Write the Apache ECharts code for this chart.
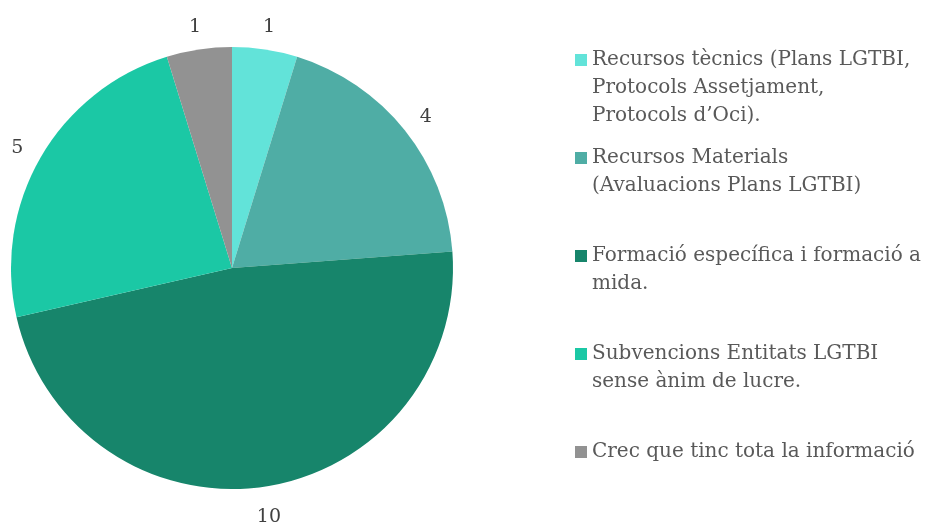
<!DOCTYPE html>
<html>
<head>
<meta charset="utf-8">
<script src="https://cdn.jsdelivr.net/npm/echarts@6/dist/echarts.min.js"></script>
<style>html,body{margin:0;padding:0;background:#fff}#c{width:936px;height:522px}</style>
</head>
<body>
<div id="c"></div>
<script>
var categories = [
  "Recursos tècnics (Plans LGTBI, Protocols Assetjament, Protocols d’Oci).",
  "Recursos Materials (Avaluacions Plans LGTBI)",
  "Formació específica i formació a mida.",
  "Subvencions Entitats LGTBI sense ànim de lucre.",
  "Crec que tinc tota la informació"
];
var values = [1, 4, 10, 5, 1];
var legendLines = [
  ["Recursos tècnics (Plans LGTBI,", "Protocols Assetjament,", "Protocols d’Oci)."],
  ["Recursos Materials", "(Avaluacions Plans LGTBI)"],
  ["Formació específica i formació a", "mida."],
  ["Subvencions Entitats LGTBI", "sense ànim de lucre."],
  ["Crec que tinc tota la informació"]
];
var colors = ["#62E3D9", "#4FADA5", "#17856B", "#1BC8A5", "#929292"];

var FONT = "DejaVu Serif";
var data = categories.map(function (n, i) { return { name: n, value: values[i] }; });

var rich = {
  g: { width: 5, lineHeight: 28 },
  sp: { width: 17, lineHeight: 28 },
  t: { fontFamily: FONT, fontSize: 20, color: "#595959", lineHeight: 28 }
};
colors.forEach(function (c, i) {
  rich["s" + i] = { width: 12, height: 12, backgroundColor: c, lineHeight: 28 };
});

var chart = echarts.init(document.getElementById("c"), null, { renderer: "canvas" });
chart.setOption({
  animation: false,
  color: colors,
  legend: {
    orient: "vertical",
    left: 570,
    top: 46,
    padding: 0,
    itemGap: 14,
    itemWidth: 0,
    itemHeight: 12,
    icon: "none",
    data: categories,
    textStyle: { fontFamily: FONT, fontSize: 20, color: "#595959", lineHeight: 28, rich: rich },
    formatter: function (name) {
      var i = categories.indexOf(name);
      var lines = legendLines[i].map(function (l, j) {
        return (j === 0 ? "{s" + i + "|}{g|}" : "{sp|}") + "{t|" + l + "}";
      });
      while (lines.length < 3 && i < categories.length - 1) lines.push("{sp|}");
      return lines.join("\n");
    }
  },
  series: [
    {
      type: "pie",
      center: [232, 268],
      radius: [0, 221],
      startAngle: 90,
      clockwise: true,
      silent: true,
      label: { show: false },
      labelLine: { show: false },
      itemStyle: { borderWidth: 0 },
      data: data
    },
    {
      type: "pie",
      center: [232, 268],
      radius: [234, 256],
      startAngle: 90,
      clockwise: true,
      silent: true,
      itemStyle: { color: "rgba(0,0,0,0)" },
      label: {
        show: true,
        position: "inside",
        formatter: "{c}",
        fontFamily: FONT,
        fontSize: 19,
        color: "#404040",
        offset: [0, 4]
      },
      labelLine: { show: false },
      data: data
    }
  ]
});
</script>
</body>
</html>
